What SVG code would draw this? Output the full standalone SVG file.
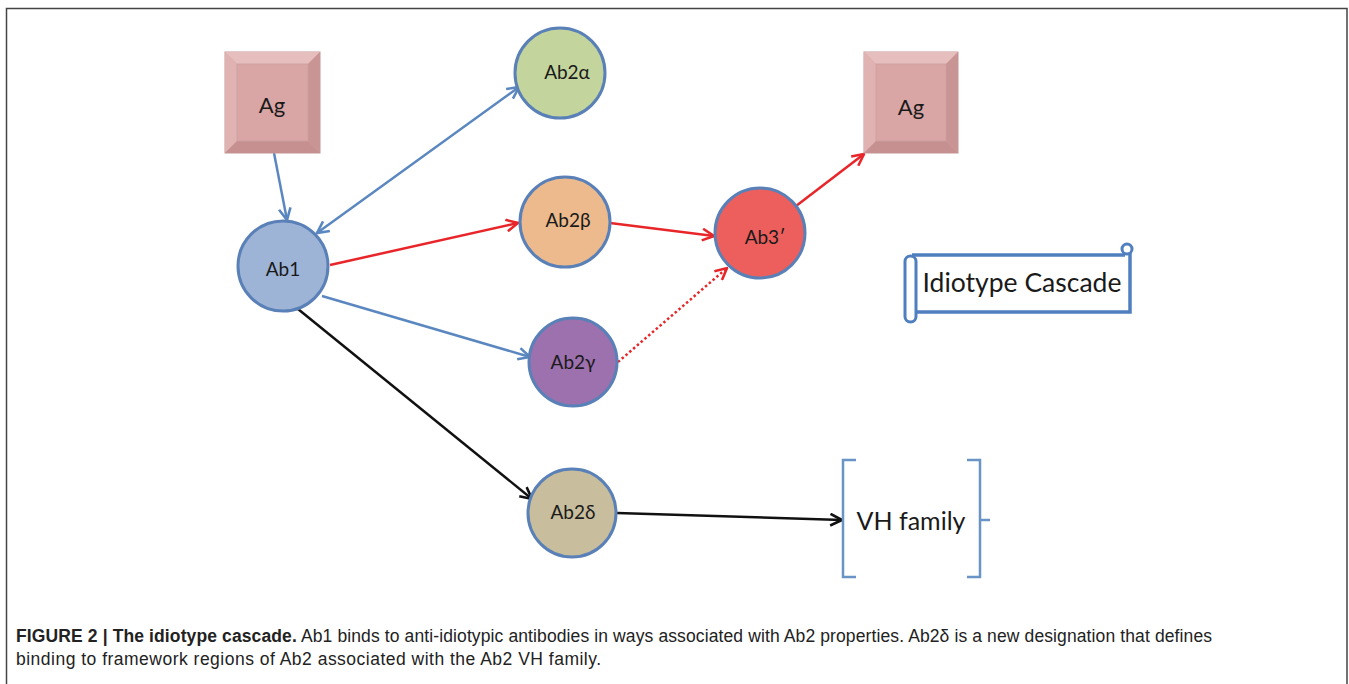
<svg xmlns="http://www.w3.org/2000/svg" width="1349" height="684" viewBox="0 0 1349 684">
<style>
.lbl{font-family:Lato,"Liberation Sans",sans-serif;fill:#1a1a1a;text-anchor:middle}
.node{stroke:#5a80b8;stroke-width:3}
.cap{font-family:"Liberation Sans",Arial,sans-serif;font-size:17.5px;fill:#222}
.blue{stroke:#5b87c0;stroke-width:2.5;fill:none}
.red{stroke:#e8262a;stroke-width:2.5;fill:none}
.blk{stroke:#111;stroke-width:2.5;fill:none}
.bev{stroke:#c49696;stroke-width:1}
</style>
<defs>
<marker id="aB" viewBox="0 0 12 12" refX="11" refY="6" markerWidth="14" markerHeight="14" markerUnits="userSpaceOnUse" orient="auto-start-reverse"><path d="M1,1 L11,6 L1,11" fill="none" stroke="#5b87c0" stroke-width="2.2"/></marker>
<marker id="aR" viewBox="0 0 12 12" refX="11" refY="6" markerWidth="14" markerHeight="14" markerUnits="userSpaceOnUse" orient="auto"><path d="M1,1 L11,6 L1,11" fill="none" stroke="#e8262a" stroke-width="2.2"/></marker>
<marker id="aK" viewBox="0 0 12 12" refX="11" refY="6" markerWidth="14" markerHeight="14" markerUnits="userSpaceOnUse" orient="auto"><path d="M1,1 L11,6 L1,11" fill="none" stroke="#111" stroke-width="2.2"/></marker>
</defs>
<rect width="1349" height="684" fill="#fff"/>
<path d="M6.5,684 V8.5 H1347 V684" fill="none" stroke="#444" stroke-width="1.5"/>

<g id="connectors">
<line class="blue" x1="274" y1="153" x2="287" y2="220" marker-end="url(#aB)"/>
<line class="blue" x1="317" y1="233" x2="519" y2="87" marker-start="url(#aB)" marker-end="url(#aB)"/>
<line class="red" x1="330" y1="265" x2="518" y2="223" marker-end="url(#aR)"/>
<line class="blue" x1="322" y1="296" x2="530" y2="357" marker-end="url(#aB)"/>
<line class="blk" x1="298" y1="309" x2="532" y2="499" marker-end="url(#aK)"/>
<line class="red" x1="610" y1="223" x2="714" y2="236" marker-end="url(#aR)"/>
<line class="red" x1="618" y1="362" x2="727" y2="268" stroke-dasharray="2.5 2.5" marker-end="url(#aR)"/>
<line class="red" x1="796" y1="206" x2="864" y2="154" marker-end="url(#aR)"/>
<line class="blk" x1="617" y1="513" x2="842" y2="520" marker-end="url(#aK)"/>
</g>

<g id="ag1">
<rect x="225" y="52" width="95" height="101" fill="#d9a4a4" class="bev"/>
<polygon points="225,52 320,52 308,64 237,64" fill="#e6bebe"/>
<polygon points="225,52 237,64 237,141 225,153" fill="#e0b2b2"/>
<polygon points="320,52 320,153 308,141 308,64" fill="#c99494"/>
<polygon points="225,153 320,153 308,141 237,141" fill="#c79090"/>
<rect x="237" y="64" width="71" height="77" fill="#d9a5a5" stroke="#caa0a0" stroke-width="0.8"/>
<text class="lbl" x="272" y="113" font-size="22">Ag</text>
</g>

<g id="ab1">
<circle cx="283" cy="266" r="45" fill="#9db4d7" class="node"/>
<text class="lbl" x="283" y="276" font-size="19">Ab1</text>
</g>

<g id="ab2a">
<circle cx="560" cy="73" r="45" fill="#c3d59c" class="node"/>
<text class="lbl" x="567" y="79" font-size="19">Ab2α</text>
</g>

<g id="ab2b">
<circle cx="565" cy="222" r="45" fill="#ecba8d" class="node"/>
<text class="lbl" x="568" y="227" font-size="19">Ab2β</text>
</g>

<g id="ab2g">
<circle cx="573" cy="362" r="44" fill="#9d70ae" class="node"/>
<text class="lbl" x="573" y="369" font-size="19">Ab2γ</text>
</g>

<g id="ab2d">
<circle cx="572" cy="513" r="44" fill="#c8bd9d" class="node"/>
<text class="lbl" x="573" y="519" font-size="19">Ab2δ</text>
</g>

<g id="ab3">
<circle cx="760" cy="233" r="45" fill="#ec5f5d" class="node"/>
<text class="lbl" x="765" y="244" font-size="19">Ab3′</text>
</g>

<g id="ag2">
<rect x="864" y="52" width="94" height="101" fill="#d9a4a4" class="bev"/>
<polygon points="864,52 958,52 946,64 876,64" fill="#e6bebe"/>
<polygon points="864,52 876,64 876,141 864,153" fill="#e0b2b2"/>
<polygon points="958,52 958,153 946,141 946,64" fill="#c99494"/>
<polygon points="864,153 958,153 946,141 876,141" fill="#c79090"/>
<rect x="876" y="64" width="70" height="77" fill="#d9a5a5" stroke="#caa0a0" stroke-width="0.8"/>
<text class="lbl" x="911" y="115" font-size="22">Ag</text>
</g>

<g id="scroll">
<rect x="912" y="255" width="218" height="57" fill="#fff"/>
<path d="M912,255 H1125 M1130,251 V312 H916" fill="none" stroke="#4f7fbf" stroke-width="3.5"/>
<circle cx="1127" cy="249" r="5" fill="#fff" stroke="#4f7fbf" stroke-width="3"/>
<rect x="905" y="256" width="11" height="66" rx="5.5" fill="#fff" stroke="#4f7fbf" stroke-width="3"/>
<text class="lbl" x="1022" y="292" font-size="26.5">Idiotype Cascade</text>
</g>

<g id="vh">
<path d="M856,460 H843 V577 H856" fill="none" stroke="#6a93c6" stroke-width="2.5"/>
<path d="M967,460 H980 V577 H967 M980,520 H990" fill="none" stroke="#6a93c6" stroke-width="2.5"/>
<text class="lbl" x="911" y="530" font-size="25">VH family</text>
</g>

<g id="caption">
<text class="cap" x="16" y="642" textLength="1196" lengthAdjust="spacing"><tspan font-weight="bold">FIGURE 2 | The idiotype cascade.</tspan> Ab1 binds to anti-idiotypic antibodies in ways associated with Ab2 properties. Ab2δ is a new designation that defines</text>
<text class="cap" x="16" y="665" textLength="585" lengthAdjust="spacing">binding to framework regions of Ab2 associated with the Ab2 VH family.</text>
</g>
</svg>
